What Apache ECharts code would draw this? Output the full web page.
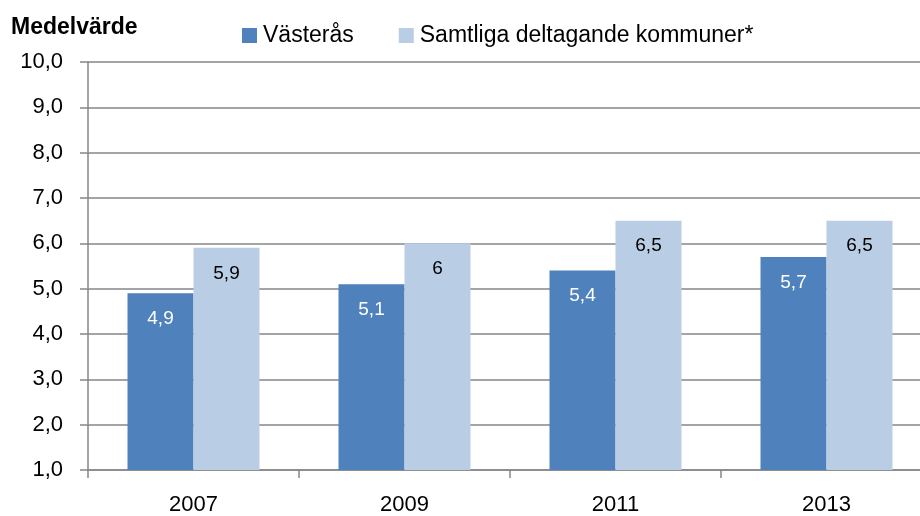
<!DOCTYPE html>
<html>
<head>
<meta charset="UTF-8">
<title>Medelvärde</title>
<script type="text/javascript" src="https://cdn.jsdelivr.net/npm/echarts@6/dist/echarts.min.js"></script>
<style>
	html, body { margin: 0; padding: 0; background: #fff; overflow: hidden; }
	/* the original is cropped on the right, so the chart is drawn a bit wider than the window */
	#main { width: 940px; height: 516px; }
</style>
</head>
<body>
	<div id="main"></div>
	<script type="text/javascript">
		var years = ['2007', '2009', '2011', '2013'];
		var vasteras = [4.9, 5.1, 5.4, 5.7];
		var samtliga = [5.9, 6, 6.5, 6.5];
		var yTicks = [1, 2, 3, 4, 5, 6, 7, 8, 9, 10];

		function comma(v) {
			return String(v).replace('.', ',');
		}

		var font = 'Liberation Sans, Arial, sans-serif';
		var myChart = echarts.init(document.getElementById('main'));
		var option = {
			animation: false,
			textStyle: { fontFamily: font },
			title: {
				text: 'Medelvärde',
				left: 11, top: 16, padding: 0,
				textStyle: { fontSize: 23, fontWeight: 'bold', color: '#000', fontFamily: font }
			},
			legend: {
				left: 242, top: 24, padding: 0,
				itemWidth: 15, itemHeight: 15, itemGap: 45,
				icon: 'rect',
				textStyle: { fontSize: 23, color: '#000', fontFamily: font, padding: [0, 0, 0, 1] },
				data: ['Västerås', 'Samtliga deltagande kommuner*']
			},
			grid: { left: 88, right: 8, top: 62, bottom: 46, containLabel: false },
			xAxis: {
				type: 'category',
				data: years,
				axisLine: { lineStyle: { color: '#868686', width: 1.5 } },
				axisTick: { show: true, length: 8, lineStyle: { color: '#868686', width: 1.5 } },
				axisLabel: { fontSize: 22, color: '#000', margin: 24 }
			},
			yAxis: {
				type: 'value',
				min: yTicks[0], max: yTicks[yTicks.length - 1], interval: 1,
				axisLine: { show: true, lineStyle: { color: '#868686', width: 1.5 } },
				axisTick: { show: true, length: 8, lineStyle: { color: '#868686', width: 1.5 } },
				axisLabel: {
					fontSize: 22, color: '#000', margin: 25,
					formatter: function (v) { return v.toFixed(1).replace('.', ','); }
				},
				splitLine: { lineStyle: { color: '#868686', width: 1.5 } }
			},
			series: [{
				name: 'Västerås',
				type: 'bar',
				data: vasteras,
				barWidth: 66,
				barGap: '0%',
				itemStyle: { color: '#4F81BD' },
				label: {
					show: true, position: 'insideTop', distance: 16,
					color: '#fff', fontSize: 19,
					formatter: function (p) { return comma(p.value); }
				}
			}, {
				name: 'Samtliga deltagande kommuner*',
				type: 'bar',
				data: samtliga,
				barWidth: 66,
				itemStyle: { color: '#B9CDE5' },
				label: {
					show: true, position: 'insideTop', distance: 16,
					color: '#000', fontSize: 19,
					formatter: function (p) { return comma(p.value); }
				}
			}]
		};
		myChart.setOption(option);
	</script>
</body>
</html>
